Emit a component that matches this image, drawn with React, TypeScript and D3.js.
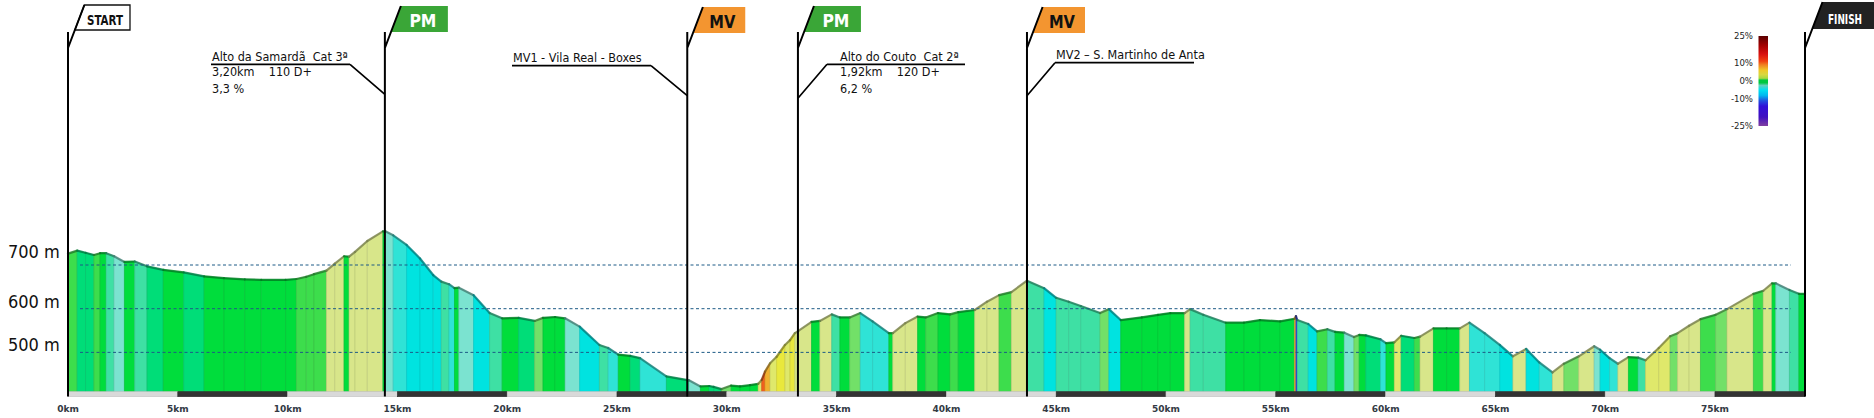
import React, { useEffect, useRef } from 'react';
import * as d3 from 'd3';

// profile: distance (km) and altitude (m)
const distKm = [
  0, 0.42, 0.8, 1.18, 1.46, 1.74, 2.1, 2.57, 3.04, 3.6, 4.34, 5.27, 6.2, 7.1, 8.05, 8.8, 9.91,
  10.4, 10.85, 11.2, 11.77, 12.15, 12.57, 12.8, 13.07, 13.63, 14.34, 14.45, 14.81, 15.42, 16.03,
  16.63, 17.0, 17.35, 17.6, 17.8, 18.47, 19.2, 19.77, 20.52, 21.25, 21.63, 22.18, 22.64, 23.3,
  24.2, 24.6, 25.06, 25.6, 26.05, 27.25, 28.28, 28.8, 29.2, 29.4, 29.76, 30.2, 30.6, 31.06,
  31.43, 31.59, 31.74, 31.97, 32.27, 32.65, 32.88, 33.1, 33.26, 33.86, 34.24, 34.78, 35.15,
  35.6, 36.08, 36.64, 37.38, 37.56, 38.13, 38.69, 39.06, 39.62, 40.17, 40.54, 41.29, 41.85,
  42.4, 42.96, 43.67, 44.45, 45.0, 45.57, 46.12, 47.0, 47.4, 47.94, 48.9, 49.64, 50.2, 50.85,
  51.1, 51.7, 52.72, 53.55, 54.28, 55.2, 55.85, 55.92, 55.98, 56.48, 56.88, 57.35, 57.7, 58.12,
  58.56, 58.8, 59.1, 59.77, 60.02, 60.4, 60.71, 61.31, 61.57, 62.18, 62.78, 63.38, 63.82, 64.51,
  65.2, 65.8, 66.4, 67.0, 67.6, 68.12, 68.8, 69.5, 69.77, 70.2, 70.58, 71.06, 71.5, 71.84,
  72.44, 72.96, 73.3, 73.82, 74.34, 75.03, 75.55, 76.75, 77.2, 77.6, 77.77, 78.39, 78.82, 79.1,
];
const elevM = [
  726, 733, 728, 723, 727, 727, 720, 707, 708, 697, 689, 683, 674, 670, 667, 666, 666,
  668, 673, 679, 687, 703, 720, 719, 730, 755, 777, 777, 768, 746, 715,
  677, 662, 656, 647, 648, 631, 590, 578, 579, 572, 579, 581, 578, 559,
  517, 510, 495, 492, 487, 445, 436, 422, 423, 421, 416, 424, 422, 425,
  428, 437, 456, 475, 490, 517, 528, 544, 549, 570, 572, 587, 580,
  580, 590, 571, 544, 544, 567, 582, 580, 590, 587, 592, 597, 616,
  631, 638, 664, 647, 625, 616, 606, 590, 599, 574, 580, 586, 590, 590,
  599, 586, 568, 568, 574, 571, 577, 583, 574, 565, 548, 553, 547, 545,
  535, 540, 539, 530, 521, 523, 538, 533, 536, 555, 555, 555, 568, 544,
  517, 491, 508, 477, 454, 474, 491, 514, 506, 487, 474, 489, 488, 482,
  510, 537, 544, 561, 576, 586, 599, 634, 641, 658, 658, 643, 634, 634,
];

const kmTicks = [0, 5, 10, 15, 20, 25, 30, 35, 40, 45, 50, 55, 60, 65, 70, 75];
const gridAlt = [500, 600, 700];

const markerKm = [0, 14.43, 28.2, 33.24, 43.67, 79.1];
const markerLabels = ['START', 'PM', 'MV', 'PM', 'MV', 'FINISH'];
const markerTypes = ['start', 'pm', 'mv', 'pm', 'mv', 'finish'];

const noteMarker = [1, 2, 3, 4];
const noteTitles = ['Alto da Samardã  Cat 3ª', 'MV1 - Vila Real - Boxes', 'Alto do Couto  Cat 2ª', 'MV2 – S. Martinho de Anta'];
const noteDetails = [['3,20km    110 D+', '3,3 %'], [], ['1,92km    120 D+', '6,2 %'], []];

const legendTicks = [25, 10, 0, -10, -25];

const W = 1874;
const H = 418;
const FONT = "'DejaVu Sans Condensed', 'DejaVu Sans', sans-serif";

export default function App() {
  const svgRef = useRef<SVGSVGElement>(null);

  useEffect(() => {
    if (!svgRef.current) return;
    const svg = d3.select(svgRef.current);
    svg.selectAll('*').remove();

    const x = d3.scaleLinear().domain([0, 79.1]).range([68, 1805]);
    const y = d3.scaleLinear().domain([410, 700]).range([391.7, 265]);
    const base = y(410);

    // gradient classes (%)
    const gradeColor = d3.scaleThreshold<number, string>()
      .domain([-12, -4, -3, -2.2, -1.5, -0.8, 1, 1.8, 2.6, 4.5, 6.5, 8, 10, 14])
      .range(['#2a3ee0', '#00e3e0', '#2fe3d6', '#7be3d0', '#3ee0a4', '#00dd78', '#00dd3c',
        '#3ddd4c', '#72e068', '#d8e68a', '#dfe86b', '#e9e83c', '#f0b030', '#f0601e', '#e01010']);

    const segs = d3.pairs(d3.range(distKm.length)).map(([a, b]) => {
      const g = (elevM[b] - elevM[a]) / ((distKm[b] - distKm[a]) * 1000) * 100;
      return { a, b, color: gradeColor(g) };
    });

    // profile strips
    const prof = svg.append('g');
    prof.selectAll('polygon')
      .data(segs)
      .enter()
      .append('polygon')
      .attr('points', d => [
        [x(distKm[d.a]), base], [x(distKm[d.a]), y(elevM[d.a])],
        [x(distKm[d.b]), y(elevM[d.b])], [x(distKm[d.b]), base],
      ].map(p => p.join(',')).join(' '))
      .attr('fill', d => d.color)
      .attr('stroke', d => d3.color(d.color)!.darker(0.35).formatHex())
      .attr('stroke-width', 0.7);

    // top outline
    prof.selectAll('line')
      .data(segs)
      .enter()
      .append('line')
      .attr('x1', d => x(distKm[d.a]))
      .attr('y1', d => y(elevM[d.a]))
      .attr('x2', d => x(distKm[d.b]))
      .attr('y2', d => y(elevM[d.b]))
      .attr('stroke', d => d3.color(d.color)!.darker(1.6).formatHex())
      .attr('stroke-width', 2.2)
      .attr('stroke-linecap', 'round')
      .attr('opacity', 0.8);

    // dashed altitude lines
    svg.append('g')
      .selectAll('line')
      .data(gridAlt)
      .enter()
      .append('line')
      .attr('x1', 80)
      .attr('x2', 1791)
      .attr('y1', d => y(d))
      .attr('y2', d => y(d))
      .attr('stroke', '#1d5b86')
      .attr('stroke-width', 1)
      .attr('stroke-dasharray', '3,2.5');

    svg.append('g')
      .selectAll('text')
      .data(gridAlt)
      .enter()
      .append('text')
      .attr('x', 8)
      .attr('y', d => y(d) - (d === 700 ? 7 : 1))
      .style('font-family', FONT)
      .style('font-stretch', 'condensed')
      .style('font-size', '18px')
      .attr('fill', '#111')
      .text(d => `${d} m`);

    // km bar
    const barStops = [...kmTicks, 79.1];
    svg.append('g')
      .selectAll('rect')
      .data(d3.pairs(barStops))
      .enter()
      .append('rect')
      .attr('x', d => x(d[0]))
      .attr('y', base)
      .attr('width', d => x(d[1]) - x(d[0]))
      .attr('height', 5)
      .attr('fill', (_, i) => (i % 2 ? '#333333' : '#d9d9d9'))
      .attr('stroke', (_, i) => (i % 2 ? '#2a2a2a' : '#c4c4c4'))
      .attr('stroke-width', 0.6);

    svg.append('g')
      .selectAll('text')
      .data(kmTicks)
      .enter()
      .append('text')
      .attr('x', d => x(d))
      .attr('y', 411.5)
      .attr('text-anchor', 'middle')
      .style('font-family', "'DejaVu Sans', sans-serif")
      .style('font-size', '9px')
      .style('font-weight', '700')
      .attr('fill', '#333a44')
      .text(d => `${d}km`);

    // notes with leader lines
    const noteLayout = [
      { tx: 212, ux1: 211, ux2: 350, uy: 64.3, ey: 94.3, from: 'right' },
      { tx: 513, ux1: 512, ux2: 651, uy: 65.7, ey: 95.7, from: 'right' },
      { tx: 840, ux1: 827, ux2: 965, uy: 64.3, ey: 98.3, from: 'left' },
      { tx: 1056, ux1: 1055, ux2: 1194, uy: 62.7, ey: 95.7, from: 'left' },
    ];
    const notes = svg.append('g');
    noteMarker.forEach((m, i) => {
      const L = noteLayout[i];
      const mx = x(markerKm[m]);
      const jx = L.from === 'right' ? L.ux2 : L.ux1;
      notes.append('path')
        .attr('d', `M${L.ux1},${L.uy}H${L.ux2}M${jx},${L.uy}L${mx},${L.ey}`)
        .attr('fill', 'none')
        .attr('stroke', '#000')
        .attr('stroke-width', 1.7);
      notes.append('text')
        .attr('x', L.tx)
        .attr('y', L.uy - 3.5)
        .style('font-family', FONT)
        .style('font-stretch', 'condensed')
        .style('font-size', '12.5px')
        .style('white-space', 'pre')
        .attr('fill', '#111')
        .text(noteTitles[i]);
      noteDetails[i].forEach((t, j) => {
        notes.append('text')
          .attr('x', L.tx)
          .attr('y', L.uy + 12 + j * 16.5)
          .style('font-family', FONT)
          .style('font-stretch', 'condensed')
          .style('font-size', '12.5px')
          .style('white-space', 'pre')
          .attr('fill', '#111')
          .text(t);
      });
    });

    // flags
    const flagStyle: Record<string, { fill: string; text: string; w: number; cx: number; top: number; bot: number; fs: number; tl: number }> = {
      start: { fill: '#ffffff', text: '#111', w: 62, cx: 37, top: 5, bot: 30, fs: 14, tl: 36 },
      pm: { fill: '#3aa637', text: '#ffffff', w: 63, cx: 38, top: 6, bot: 32, fs: 18, tl: 27 },
      mv: { fill: '#f39530', text: '#111', w: 58, cx: 35, top: 7, bot: 33, fs: 18, tl: 26 },
      finish: { fill: '#222222', text: '#ffffff', w: 69, cx: 40, top: 2, bot: 29, fs: 14, tl: 34 },
    };
    const flags = svg.append('g');
    markerKm.forEach((km, i) => {
      const s = flagStyle[markerTypes[i]];
      const x0 = x(km);
      const slope = 16 / 42;
      const xt = x0 + (48 - s.top) * slope;
      const xb = x0 + (48 - s.bot) * slope;
      flags.append('polygon')
        .attr('points', `${xb},${s.bot} ${xt},${s.top} ${x0 + s.w},${s.top} ${x0 + s.w},${s.bot}`)
        .attr('fill', s.fill)
        .attr('stroke', markerTypes[i] === 'start' ? '#111' : 'none')
        .attr('stroke-width', 1.3);
      flags.append('path')
        .attr('d', `M${x0},${32}V${396.5}M${x0},48L${xt},${s.top}`)
        .attr('fill', 'none')
        .attr('stroke', '#000')
        .attr('stroke-width', 2);
      flags.append('text')
        .attr('x', x0 + s.cx)
        .attr('y', s.bot - (s.fs > 15 ? 5.5 : 5))
        .attr('text-anchor', 'middle')
        .attr('textLength', s.tl)
        .attr('lengthAdjust', 'spacingAndGlyphs')
        .style('font-family', FONT)
        .style('font-stretch', 'condensed')
        .style('font-size', `${s.fs}px`)
        .style('font-weight', '700')
        .attr('fill', s.text)
        .text(markerLabels[i]);
    });

    // gradient legend
    const ly = d3.scaleLinear().domain([-25, 25]).range([126, 36]);
    const grad = svg.append('defs').append('linearGradient')
      .attr('id', 'gradeLegend')
      .attr('x1', 0).attr('y1', 0).attr('x2', 0).attr('y2', 1);
    const legendStops: [number, string][] = [
      [25, '#5a0000'], [20, '#a00000'], [15, '#d81010'], [11, '#f04010'], [9, '#f08020'],
      [6, '#f0c828'], [3.5, '#d8d840'], [1.5, '#a8d840'], [0.5, '#00c840'], [-1, '#00c840'],
      [-2.5, '#60d0c0'], [-5, '#00e0f0'], [-8, '#00b8f0'], [-11, '#2050e0'], [-14, '#3010d8'],
      [-20, '#4010c0'], [-25, '#8040a0'],
    ];
    legendStops.forEach(([g, c]) => {
      grad.append('stop').attr('offset', (25 - g) / 50).attr('stop-color', c);
    });
    svg.append('rect')
      .attr('x', 1758.5)
      .attr('y', ly(25))
      .attr('width', 9.5)
      .attr('height', ly(-25) - ly(25))
      .attr('fill', 'url(#gradeLegend)');
    svg.append('g')
      .selectAll('text')
      .data(legendTicks)
      .enter()
      .append('text')
      .attr('x', 1753)
      .attr('y', d => ly(d) + 3.3)
      .attr('text-anchor', 'end')
      .style('font-family', FONT)
      .style('font-stretch', 'condensed')
      .style('font-size', '9.5px')
      .attr('fill', '#222')
      .text(d => `${d}%`);
  }, []);

  return (
    <svg
      ref={svgRef}
      width={W}
      height={H}
      style={{ position: 'absolute', left: 0, top: 0, background: '#fff', display: 'block' }}
    />
  );
}
